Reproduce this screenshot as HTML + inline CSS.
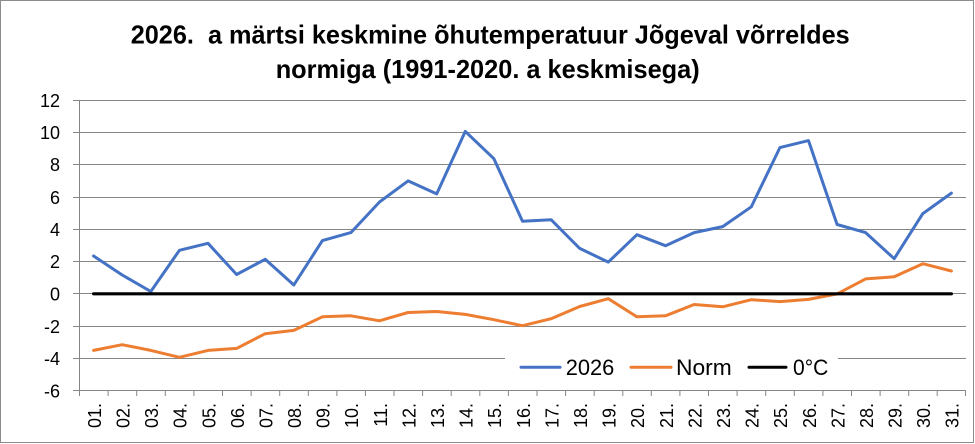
<!DOCTYPE html>
<html><head><meta charset="utf-8"><style>
html,body{margin:0;padding:0;background:#fff;}
svg{display:block;}
text{font-family:"Liberation Sans",sans-serif;fill:#000;}
</style></head><body>
<svg width="975" height="444" viewBox="0 0 975 444" xmlns="http://www.w3.org/2000/svg">
<rect x="0" y="0" width="975" height="444" fill="#fff"/>
<rect x="0.5" y="0.5" width="973" height="442" fill="#fff" stroke="#8c8c8c" stroke-width="1"/>
<text x="130.7" y="43.5" font-size="26" font-weight="bold" textLength="719" lengthAdjust="spacingAndGlyphs" xml:space="preserve">2026.  a märtsi keskmine õhutemperatuur Jõgeval võrreldes</text>
<text x="275.7" y="78" font-size="26" font-weight="bold" textLength="424" lengthAdjust="spacingAndGlyphs">normiga (1991-2020. a keskmisega)</text>
<g stroke="#868686" stroke-width="1" fill="none">
<line x1="73" y1="100.5" x2="966" y2="100.5"/>
<line x1="73" y1="132.5" x2="966" y2="132.5"/>
<line x1="73" y1="164.5" x2="966" y2="164.5"/>
<line x1="73" y1="197.5" x2="966" y2="197.5"/>
<line x1="73" y1="229.5" x2="966" y2="229.5"/>
<line x1="73" y1="261.5" x2="966" y2="261.5"/>
<line x1="73" y1="293.5" x2="966" y2="293.5"/>
<line x1="73" y1="326.5" x2="966" y2="326.5"/>
<line x1="73" y1="358.5" x2="966" y2="358.5"/>
<line x1="73" y1="390.5" x2="966" y2="390.5"/>
<line x1="79.5" y1="100" x2="79.5" y2="391"/>
<path d="M79.5 390v6M108.1 390v6M136.7 390v6M165.3 390v6M193.9 390v6M222.5 390v6M251.1 390v6M279.7 390v6M308.3 390v6M336.9 390v6M365.4 390v6M394 390v6M422.6 390v6M451.2 390v6M479.8 390v6M508.4 390v6M537 390v6M565.6 390v6M594.2 390v6M622.8 390v6M651.3 390v6M679.9 390v6M708.5 390v6M737.1 390v6M765.7 390v6M794.3 390v6M822.9 390v6M851.5 390v6M880.1 390v6M908.7 390v6M937.2 390v6M965.5 390v6"/>
</g>
<g font-size="18" text-anchor="end">
<text x="60" y="107">12</text>
<text x="60" y="139">10</text>
<text x="60" y="171">8</text>
<text x="60" y="204">6</text>
<text x="60" y="236">4</text>
<text x="60" y="268">2</text>
<text x="60" y="300.5">0</text>
<text x="60" y="333">-2</text>
<text x="60" y="365">-4</text>
<text x="60" y="397.5">-6</text>
</g>
<g font-size="18" text-anchor="end">
<text transform="translate(100.9,403) rotate(-90)">01.</text>
<text transform="translate(129.5,403) rotate(-90)">02.</text>
<text transform="translate(158.1,403) rotate(-90)">03.</text>
<text transform="translate(186.7,403) rotate(-90)">04.</text>
<text transform="translate(215.3,403) rotate(-90)">05.</text>
<text transform="translate(243.9,403) rotate(-90)">06.</text>
<text transform="translate(272.5,403) rotate(-90)">07.</text>
<text transform="translate(301.1,403) rotate(-90)">08.</text>
<text transform="translate(329.7,403) rotate(-90)">09.</text>
<text transform="translate(358.2,403) rotate(-90)">10.</text>
<text transform="translate(386.8,403) rotate(-90)">11.</text>
<text transform="translate(415.4,403) rotate(-90)">12.</text>
<text transform="translate(444,403) rotate(-90)">13.</text>
<text transform="translate(472.6,403) rotate(-90)">14.</text>
<text transform="translate(501.2,403) rotate(-90)">15.</text>
<text transform="translate(529.8,403) rotate(-90)">16.</text>
<text transform="translate(558.4,403) rotate(-90)">17.</text>
<text transform="translate(587,403) rotate(-90)">18.</text>
<text transform="translate(615.6,403) rotate(-90)">19.</text>
<text transform="translate(644.2,403) rotate(-90)">20.</text>
<text transform="translate(672.8,403) rotate(-90)">21.</text>
<text transform="translate(701.4,403) rotate(-90)">22.</text>
<text transform="translate(730,403) rotate(-90)">23.</text>
<text transform="translate(758.6,403) rotate(-90)">24.</text>
<text transform="translate(787.2,403) rotate(-90)">25.</text>
<text transform="translate(815.8,403) rotate(-90)">26.</text>
<text transform="translate(844.4,403) rotate(-90)">27.</text>
<text transform="translate(872.9,403) rotate(-90)">28.</text>
<text transform="translate(901.5,403) rotate(-90)">29.</text>
<text transform="translate(930.1,403) rotate(-90)">30.</text>
<text transform="translate(958.7,403) rotate(-90)">31.</text>
</g>
<g fill="none" stroke-linejoin="round" stroke-linecap="round">
<polyline stroke="#4472C4" stroke-width="3" points="93.6,256 122.2,275 150.8,291.5 179.4,250.3 208,243.3 236.6,274.5 265.2,259.3 293.8,285 322.4,240.6 350.9,232.6 379.5,202 408.1,180.9 436.7,193.9 465.3,131.4 493.9,158.7 522.5,221.3 551.1,219.7 579.7,248.4 608.3,262.1 636.9,234.7 665.5,245.7 694.1,232.6 722.7,226.6 751.3,206.8 779.9,147.6 808.5,140.6 837.1,224.5 865.6,232.6 894.2,258.7 922.8,213.6 951.4,193.1"/>
<polyline stroke="#ED7D31" stroke-width="3" points="93.6,350.4 122.2,344.7 150.8,350.4 179.4,357.3 208,350.4 236.6,348.4 265.2,333.7 293.8,330.4 322.4,316.8 350.9,315.8 379.5,320.8 408.1,312.5 436.7,311.5 465.3,314.4 493.9,319.7 522.5,325.7 551.1,318.7 579.7,306.5 608.3,298.7 636.9,316.8 665.5,315.8 694.1,304.5 722.7,306.8 751.3,299.7 779.9,301.6 808.5,299.4 837.1,293.9 865.6,278.9 894.2,276.8 922.8,263.7 951.4,271"/>
<line x1="93.6" y1="293.8" x2="951.4" y2="293.8" stroke="#000" stroke-width="3.2"/>
</g>
<rect x="505" y="345" width="333" height="34" fill="#fff"/>
<g stroke-width="3" stroke-linecap="round">
<line x1="521" y1="367.3" x2="560" y2="367.3" stroke="#4472C4"/>
<line x1="631" y1="367.3" x2="671" y2="367.3" stroke="#ED7D31"/>
<line x1="749" y1="367.3" x2="786" y2="367.3" stroke="#000"/>
</g>
<g font-size="22">
<text x="565.7" y="375" textLength="48.6" lengthAdjust="spacingAndGlyphs">2026</text>
<text x="676" y="375" textLength="55.7" lengthAdjust="spacingAndGlyphs">Norm</text>
<text x="793" y="375" textLength="35.3" lengthAdjust="spacingAndGlyphs">0°C</text>
</g>
</svg>
</body></html>
